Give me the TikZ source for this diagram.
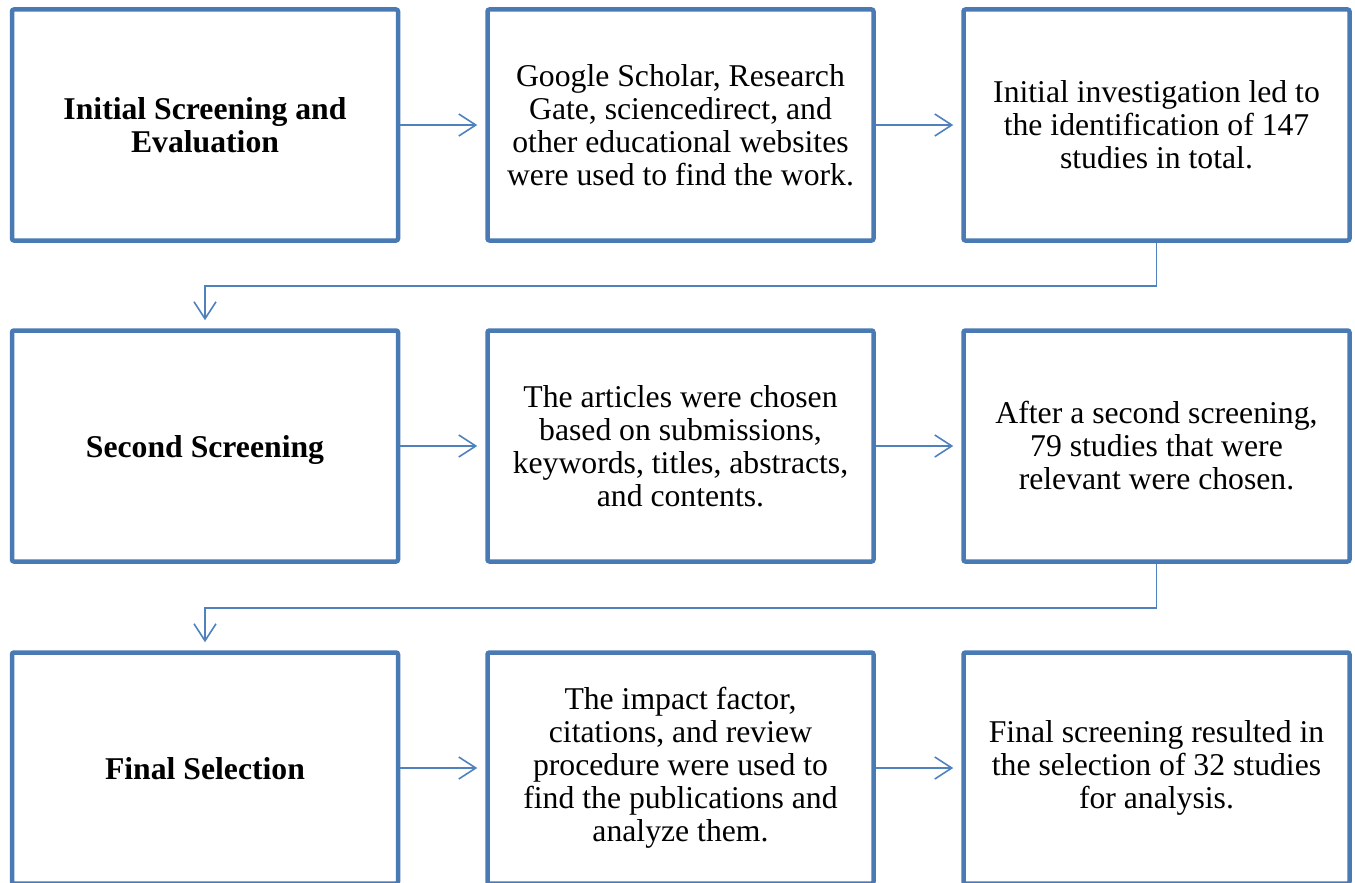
\documentclass[tikz,border=0pt]{standalone}
\usepackage{fontspec}
\setmainfont{Liberation Serif}
\usetikzlibrary{arrows.meta}
\definecolor{boxblue}{RGB}{74,122,180}
\definecolor{linkblue}{RGB}{79,129,189}
\tikzset{
  stepbox/.style={draw=boxblue, line width=4.5pt, rounded corners=2pt, fill=white,
    minimum width=386pt, minimum height=231pt, align=center, inner sep=0pt,
    font=\fontsize{31.7}{33}\selectfont},
  headbox/.style={stepbox, font=\fontsize{31.7}{33}\selectfont\bfseries},
  oneline/.style={text height=23pt, text depth=0pt},
  link/.style={draw=linkblue, line width=1.6pt, -{Straight Barb[length=17pt, width=22pt, line width=1.6pt]}},
}
\begin{document}
\begin{tikzpicture}[x=1pt,y=-1pt]
\useasboundingbox (0,0) rectangle (1355,883);
\begin{scope}
\clip (0,0) rectangle (1355,883);
% row 1
\node[headbox] (a1) at (205,125) {Initial Screening and\\Evaluation};
\node[stepbox] (a2) at (680.5,125) {Google Scholar, Research\\Gate, sciencedirect, and\\other educational websites\\were used to find the work.};
\node[stepbox] (a3) at (1156.5,125) {Initial investigation led to\\the identification of 147\\studies in total.};
% row 2
\node[headbox, oneline] (b1) at (205,446) {Second Screening};
\node[stepbox] (b2) at (680.5,446) {The articles were chosen\\based on submissions,\\keywords, titles, abstracts,\\and contents.};
\node[stepbox] (b3) at (1156.5,446) {After a second screening,\\79 studies that were\\relevant were chosen.};
% row 3
\node[headbox, oneline] (c1) at (205,768) {Final Selection};
\node[stepbox] (c2) at (680.5,768) {The impact factor,\\citations, and review\\procedure were used to\\find the publications and\\analyze them.};
\node[stepbox] (c3) at (1156.5,768) {Final screening resulted in\\the selection of 32 studies\\for analysis.};
\end{scope}
% horizontal connectors
\draw[link] (a1.east) -- ([xshift=-8pt]a2.west);
\draw[link] (a2.east) -- ([xshift=-8pt]a3.west);
\draw[link] (b1.east) -- ([xshift=-8pt]b2.west);
\draw[link] (b2.east) -- ([xshift=-8pt]b3.west);
\draw[link] (c1.east) -- ([xshift=-8pt]c2.west);
\draw[link] (c2.east) -- ([xshift=-8pt]c3.west);
% elbow connectors
\draw[link] (a3.south) -- ++(0,43.5) -| ([yshift=8pt]b1.north);
\draw[link] (b3.south) -- ++(0,44) -| ([yshift=8pt]c1.north);
\end{tikzpicture}
\end{document}
